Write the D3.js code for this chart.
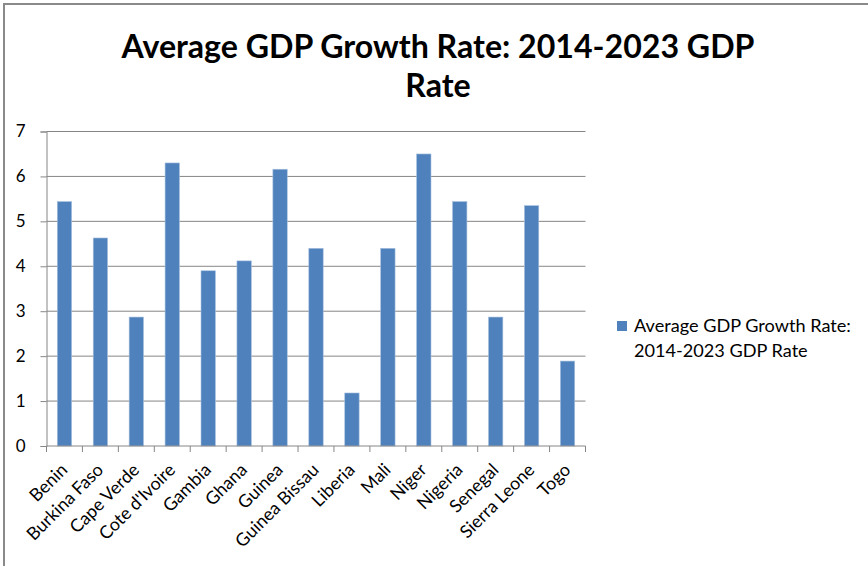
<!DOCTYPE html>
<html>
<head>
<meta charset="utf-8">
<script src="https://cdn.jsdelivr.net/npm/d3@7"></script>
<style>
  body { margin: 0; background: #fff; }
  svg { display: block; }
  text { font-family: Lato, "Open Sans", sans-serif; fill: #000; }
</style>
</head>
<body>
<svg id="chart"></svg>
<script>
const countries = ["Benin", "Burkina Faso", "Cape Verde", "Cote d'Ivoire", "Gambia", "Ghana", "Guinea",
  "Guinea Bissau", "Liberia", "Mali", "Niger", "Nigeria", "Senegal", "Sierra Leone", "Togo"];
const growth = [5.44, 4.63, 2.87, 6.30, 3.90, 4.12, 6.16, 4.40, 1.18, 4.40, 6.50, 5.44, 2.87, 5.35, 1.89];
const yTicks = [0, 1, 2, 3, 4, 5, 6, 7];
const titleLines = ["Average GDP Growth Rate: 2014-2023 GDP", "Rate"];
const legendLines = ["Average GDP Growth Rate:", "2014-2023 GDP Rate"];

const width = 868, height = 566;
const m = {left: 46.5, right: 585.5, top: 131.5, bottom: 446};
const barColor = "#4f81bd", lineColor = "#868686";

const svg = d3.select("#chart").attr("width", width).attr("height", height);

// outer frame (only top and left edges show in the crop)
svg.append("path")
   .attr("d", `M4,${height + 5}V4H${width + 5}`)
   .attr("fill", "none")
   .attr("stroke", "#8a8a8a")
   .attr("stroke-width", 2);

// fit text to a target width
function fit(sel, w) {
  const len = sel.node().getComputedTextLength();
  const fs = parseFloat(sel.attr("font-size"));
  sel.attr("font-size", fs * w / len);
}

let x = d3.scaleBand(countries, [m.left, m.right]).paddingInner(0.6).paddingOuter(0.3);
let y = d3.scaleLinear([0, 7], [m.bottom, m.top]);

// gridlines
svg.append("g")
   .selectAll("line")
   .data(yTicks.slice(1))
   .join("line")
   .attr("x1", m.left).attr("x2", m.right)
   .attr("y1", d => y(d)).attr("y2", d => y(d))
   .attr("stroke", lineColor).attr("stroke-width", 1);

// bars
svg.append("g")
   .selectAll("rect")
   .data(growth)
   .join("rect")
   .attr("x", (d, i) => x(countries[i]))
   .attr("width", x.bandwidth())
   .attr("y", d => y(d))
   .attr("height", d => y(0) - y(d))
   .attr("fill", barColor)
   .attr("stroke", "#a7c0de")
   .attr("stroke-width", 0.6);

// y axis
let yAx = d3.axisLeft(y).tickValues(yTicks).tickSize(6).tickPadding(15).tickFormat(d3.format("d"));
let yg = svg.append("g").attr("transform", `translate(${m.left},0)`).call(yAx);
yg.select(".domain").attr("stroke", lineColor);
yg.selectAll(".tick line").attr("stroke", lineColor);
yg.selectAll(".tick text").attr("font-size", 17).attr("font-family", "Lato, sans-serif").attr("fill", "#000");

// x axis: ticks at category boundaries
let xg = svg.append("g");
xg.append("line")
  .attr("x1", m.left).attr("x2", m.right)
  .attr("y1", m.bottom).attr("y2", m.bottom)
  .attr("stroke", lineColor);
xg.selectAll(".bt")
  .data(d3.range(countries.length + 1))
  .join("line")
  .attr("class", "bt")
  .attr("x1", i => m.left + i * (m.right - m.left) / countries.length)
  .attr("x2", i => m.left + i * (m.right - m.left) / countries.length)
  .attr("y1", m.bottom).attr("y2", m.bottom + 6)
  .attr("stroke", lineColor);
xg.selectAll("text")
  .data(countries)
  .join("text")
  .attr("text-anchor", "end")
  .attr("font-size", 17.8)
  .attr("transform", d => `translate(${x(d) + x.bandwidth() / 2 + 4},${m.bottom + 25}) rotate(-45)`)
  .text(d => d);

// title
let t1 = svg.append("text")
   .attr("x", 438).attr("y", 58)
   .attr("text-anchor", "middle")
   .attr("font-weight", "bold")
   .attr("font-size", 32)
   .text(titleLines[0]);
fit(t1, 633);
svg.append("text")
   .attr("x", 438).attr("y", 97)
   .attr("text-anchor", "middle")
   .attr("font-weight", "bold")
   .attr("font-size", t1.attr("font-size"))
   .text(titleLines[1]);

// legend
svg.append("rect")
   .attr("x", 617).attr("y", 321)
   .attr("width", 10).attr("height", 10)
   .attr("fill", barColor);
let l1 = svg.append("text")
   .attr("x", 634).attr("y", 332)
   .attr("font-size", 16)
   .text(legendLines[0]);
fit(l1, 217);
svg.append("text")
   .attr("x", 634).attr("y", 357)
   .attr("font-size", l1.attr("font-size"))
   .text(legendLines[1]);
</script>
</body>
</html>
